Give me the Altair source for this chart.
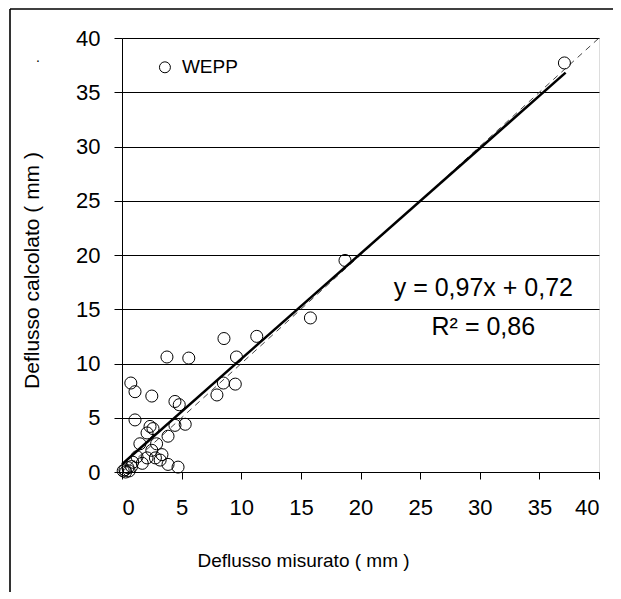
import altair as alt
import pandas as pd

# Measured runoff (x) and WEPP-calculated runoff (y), mm
meas = [37.1, 18.7, 15.8, 11.3, 8.55, 3.77, 5.6, 9.6, 8.5, 9.5, 7.96,
        0.74, 1.09, 2.5, 4.44, 4.8, 1.09, 2.35, 2.6, 2.1, 3.86, 4.44, 5.3,
        1.5, 2.9, 2.5, 3.35, 1.26, 2.1, 2.8, 3.2, 3.86, 4.7, 1.7, 0.9,
        0.25, 0.5, 0.1, 0.8, 0.3, 0.6]
calc = [37.7, 19.5, 14.2, 12.5, 12.3, 10.6, 10.5, 10.6, 8.2, 8.1, 7.1,
        8.2, 7.4, 7.0, 6.5, 6.2, 4.8, 4.2, 4.0, 3.6, 3.3, 4.3, 4.4,
        2.6, 2.6, 2.0, 1.6, 1.4, 1.3, 1.3, 1.1, 0.7, 0.45, 0.8, 0.9,
        0.2, 0.4, 0.1, 0.5, 0.0, 0.1]

slope, intercept = 0.97, 0.72
fit_x = [0.0, 37.2]
one_x = [0, 40]

FONT = "Liberation Sans"
W, H = 477, 434

pts = pd.DataFrame({"x": meas, "y": calc})
fit = pd.DataFrame({"x": fit_x, "y": [slope * v + intercept for v in fit_x]})
one = pd.DataFrame({"x": one_x, "y": one_x})

xs = alt.Scale(domain=[0, 40], nice=False)
ys = alt.Scale(domain=[0, 40], nice=False)

xax = alt.Axis(values=list(range(0, 41, 5)), grid=False, tickSize=7, tickColor="black",
               domainColor="black", labelFont=FONT, labelFontSize=22, labelColor="black",
               labelPadding=18, title="Deflusso misurato ( mm )", titleFont=FONT,
               titleFontSize=19, titleFontWeight="normal", titleColor="black",
               titleX=181, titleY=88, titleAlign="center", titleBaseline="middle")
yax = alt.Axis(values=list(range(0, 41, 5)), grid=True, gridColor="black", gridOpacity=1,
               tickSize=8, tickColor="black", domainColor="black", labelFont=FONT,
               labelFontSize=22, labelColor="black", labelPadding=14,
               title="Deflusso calcolato ( mm )", titleFont=FONT, titleFontSize=21,
               titleFontWeight="normal", titleColor="black", titleX=-90, titleY=232,
               titleAngle=-90, titleAlign="center", titleBaseline="middle")

base_pts = alt.Chart(pts).mark_point(shape="circle", filled=False, color="black",
                                     size=145, strokeWidth=1, opacity=1).encode(
    x=alt.X("x:Q", scale=xs, axis=xax), y=alt.Y("y:Q", scale=ys, axis=yax))

one_line = alt.Chart(one).mark_line(color="#444444", strokeWidth=1, strokeDash=[6, 5]).encode(
    x=alt.X("x:Q", scale=xs), y=alt.Y("y:Q", scale=ys))

fit_line = alt.Chart(fit).mark_line(color="black", strokeWidth=2.5).encode(
    x=alt.X("x:Q", scale=xs), y=alt.Y("y:Q", scale=ys))

ann = pd.DataFrame({"x": [30.3, 30.3], "y": [17.0, 13.4],
                    "t": ["y = 0,97x + 0,72", "R² = 0,86"]})
ann_text = alt.Chart(ann).mark_text(font=FONT, fontSize=25, color="black",
                                     align="center", baseline="middle").encode(
    x=alt.X("x:Q", scale=xs), y=alt.Y("y:Q", scale=ys), text="t:N")

leg = pd.DataFrame({"x": [3.6], "y": [37.3], "t": ["WEPP"]})
leg_pt = alt.Chart(leg).mark_point(shape="circle", filled=False, color="black",
                                   size=120, strokeWidth=1, opacity=1).encode(
    x=alt.X("x:Q", scale=xs), y=alt.Y("y:Q", scale=ys))
leg_txt = alt.Chart(leg).mark_text(font=FONT, fontSize=19, color="black", align="left",
                                   baseline="middle", dx=17).encode(
    x=alt.X("x:Q", scale=xs), y=alt.Y("y:Q", scale=ys), text="t:N")

# outer frame (left and top edges only visible)
frame_l = alt.Chart(pd.DataFrame({"a": [0]})).mark_rule(color="#333333", strokeWidth=2).encode(
    x=alt.value(-112), y=alt.value(-29), y2=alt.value(600))
frame_t = alt.Chart(pd.DataFrame({"a": [0]})).mark_rule(color="black", strokeWidth=1.5).encode(
    x=alt.value(-112), x2=alt.value(520), y=alt.value(-29))
dot = alt.Chart(pd.DataFrame({"a": [0]})).mark_text(text=".", font=FONT, fontSize=14,
                                                    color="black").encode(
    x=alt.value(-84), y=alt.value(20))

chart = alt.layer(one_line, fit_line, base_pts, ann_text, leg_pt, leg_txt,
                  frame_l, frame_t, dot).properties(
    width=W, height=H,
    autosize=alt.AutoSizeParams(type="none"),
    padding={"left": 114, "top": 30, "right": 14, "bottom": 120},
).configure_view(stroke="#888888", strokeWidth=1).configure(background="white")

chart.save("out.html", embed_options={"renderer": "svg", "actions": False})
